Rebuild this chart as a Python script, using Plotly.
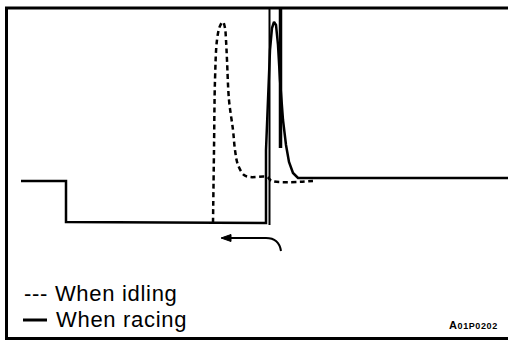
import plotly.graph_objects as go

# Waveform (pixel-space coordinates; y grows downward)
racing_x = [21, 66, 66, 266, 266, 268, 270, 272, 274, 276, 278, 280, 283, 286, 289, 293, 298, 508]
racing_y = [181, 181, 222, 223, 150, 90, 50, 28, 22, 25, 45, 80, 120, 145, 162, 173, 178, 178]

idling_x = [213, 214, 215, 217, 220, 223, 225, 226, 227, 229, 233, 235, 238, 244, 250, 267, 272, 313]
idling_y = [223, 150, 80, 40, 26, 22, 28, 40, 60, 100, 130, 150, 165, 175, 177, 177, 181, 181]

# Marker lines
thin_marker_x = [269.5, 269.5]
thin_marker_y = [9, 225]
thick_marker_x = [280.5, 280.5]
thick_marker_y = [9, 148]

legend_labels = ["--- When idling", "When racing"]
figure_code = "A01P0202"

fig = go.Figure()
fig.add_trace(go.Scatter(x=idling_x, y=idling_y, mode="lines",
                         line=dict(color="black", width=2.5, dash="5px,3.5px"),
                         line_shape="spline", hoverinfo="skip"))
fig.add_trace(go.Scatter(x=racing_x, y=racing_y, mode="lines",
                         line=dict(color="black", width=2.5), hoverinfo="skip"))
fig.add_trace(go.Scatter(x=thin_marker_x, y=thin_marker_y, mode="lines",
                         line=dict(color="black", width=2), hoverinfo="skip"))
fig.add_trace(go.Scatter(x=thick_marker_x, y=thick_marker_y, mode="lines",
                         line=dict(color="black", width=3.5), hoverinfo="skip"))

shapes = [
    # frame
    dict(type="line", x0=6.5, y0=8, x1=6.5, y1=339, line=dict(color="black", width=3)),
    dict(type="line", x0=5, y0=8, x1=508, y1=8, line=dict(color="black", width=3)),
    dict(type="line", x0=5, y0=338.5, x1=508, y1=338.5, line=dict(color="black", width=3)),
    # arrow
    dict(type="path", path="M 281 251 Q 279 238 266 238 L 228 238",
         line=dict(color="black", width=2)),
    dict(type="path", path="M 221 238 L 231 234.5 L 231 241.5 Z",
         fillcolor="black", line=dict(color="black", width=1)),
    # legend solid symbol
    dict(type="line", x0=23, y0=320, x1=47, y1=320, line=dict(color="black", width=3)),
]
for s in shapes:
    s.update(xref="x", yref="y")
fig.update_layout(shapes=shapes)

fig.add_annotation(x=23, y=293, text="<span style='letter-spacing:0.7px'>" + legend_labels[0] + "</span>",
                   showarrow=False, borderpad=0,
                   xanchor="left", yanchor="middle", xref="x", yref="y",
                   font=dict(family="Liberation Sans, Arial", size=22, color="black"))
fig.add_annotation(x=55, y=319, text="<span style='letter-spacing:0.7px'>" + legend_labels[1] + "</span>",
                   showarrow=False, borderpad=0,
                   xanchor="left", yanchor="middle", xref="x", yref="y",
                   font=dict(family="Liberation Sans, Arial", size=22, color="black"))
fig.add_annotation(x=500, y=325,
                   text="<b><span style='letter-spacing:0.6px'>" + figure_code[0] + "<span style='font-size:9px'>" + figure_code[1:] + "</span></span></b>",
                   showarrow=False, xanchor="right", yanchor="middle", xref="x", yref="y",
                   font=dict(family="Liberation Sans Narrow, Liberation Sans", size=11, color="black"))

fig.update_xaxes(range=[0, 508], visible=False, fixedrange=True)
fig.update_yaxes(range=[340, 0], visible=False, fixedrange=True)
fig.update_layout(width=508, height=340, margin=dict(l=0, r=0, t=0, b=0),
                  paper_bgcolor="white", plot_bgcolor="white", showlegend=False)

fig.write_html("out.html", config={"displayModeBar": False},
               post_script="document.body.style.margin='0';document.body.style.overflow='hidden';")
